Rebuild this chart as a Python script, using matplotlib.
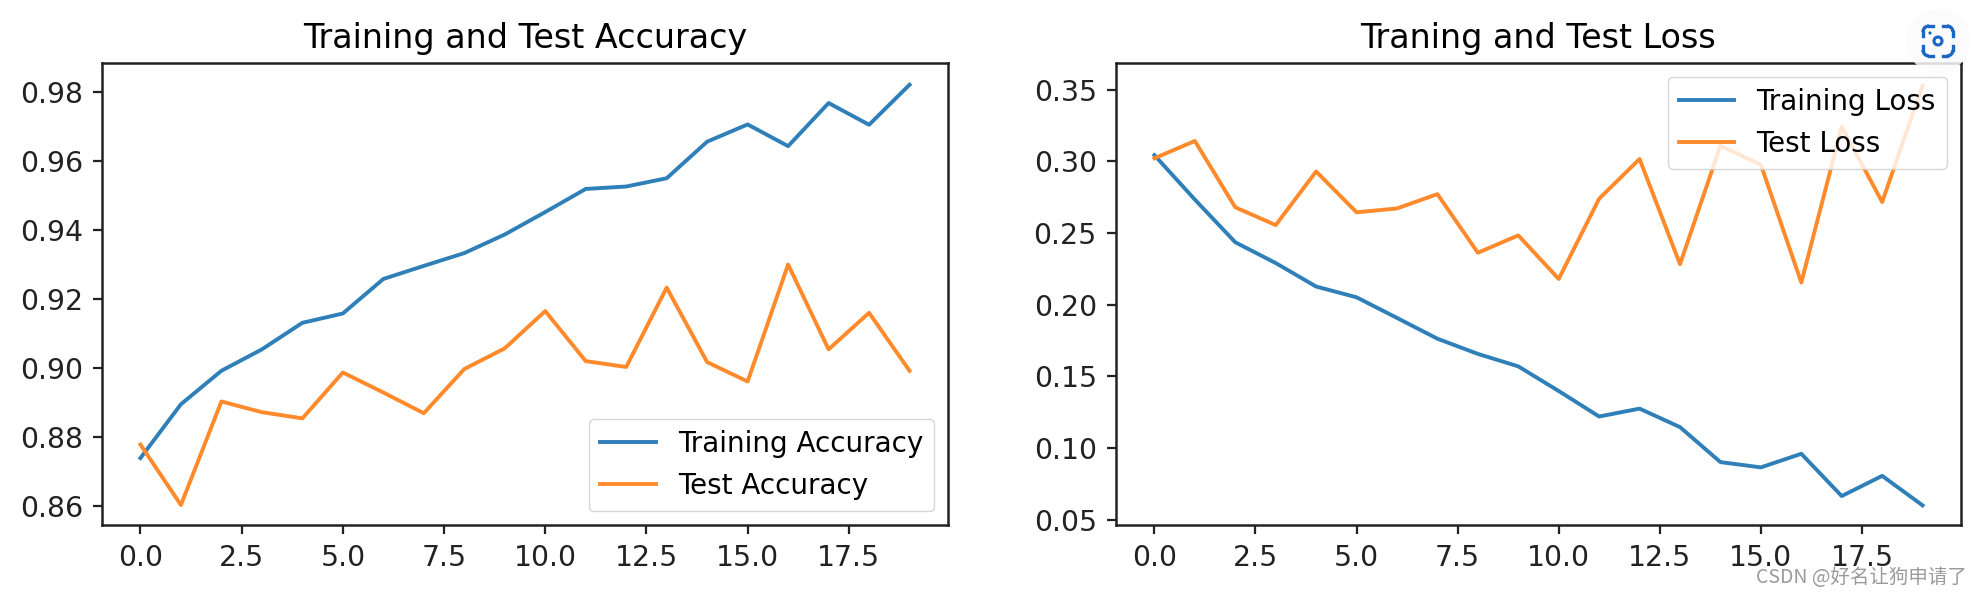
import matplotlib
matplotlib.use("Agg")
import matplotlib.pyplot as plt
from matplotlib.patches import Circle, Arc

plt.rcParams['font.family'] = ['DejaVu Sans']

# 读图估计的数值
epochs = list(range(20))
train_acc = [0.8739, 0.8895, 0.8992, 0.9054, 0.9131, 0.9158, 0.9258, 0.9296, 0.9333, 0.9387,
             0.9452, 0.9519, 0.9526, 0.9550, 0.9656, 0.9706, 0.9643, 0.9768, 0.9705, 0.9821]
test_acc = [0.8778, 0.8603, 0.8903, 0.8872, 0.8854, 0.8987, 0.8929, 0.8869, 0.8997, 0.9057,
            0.9165, 0.9020, 0.9003, 0.9233, 0.9017, 0.8961, 0.9300, 0.9054, 0.9160, 0.8992]
train_loss = [0.3044, 0.2734, 0.2436, 0.2291, 0.2127, 0.2052, 0.1908, 0.1763, 0.1657, 0.1570,
              0.1398, 0.1220, 0.1275, 0.1146, 0.0902, 0.0865, 0.0960, 0.0665, 0.0806, 0.0600]
test_loss = [0.3022, 0.3143, 0.2680, 0.2556, 0.2930, 0.2645, 0.2672, 0.2772, 0.2363, 0.2484,
             0.2180, 0.2740, 0.3017, 0.2283, 0.3110, 0.2977, 0.2155, 0.3242, 0.2717, 0.3530]

W, H = 1980, 594
fig = plt.figure(figsize=(W / 100, H / 100), dpi=100)

ax1 = fig.add_axes([102 / W, 1 - 525 / H, 846 / W, 462 / H])
ax2 = fig.add_axes([1116 / W, 1 - 525 / H, 845 / W, 462 / H])

ax1.plot(epochs, train_acc, lw=2.8, color="#2f7fb8", label="Training Accuracy")
ax1.plot(epochs, test_acc, lw=2.8, color="#ff8a2b", label="Test Accuracy")
ax1.set_title("Training and Test Accuracy", fontsize=24, pad=11)
ax1.set_ylim(0.8545, 0.9884)
ax1.legend(loc="lower right", fontsize=20)

ax2.plot(epochs, train_loss, lw=2.8, color="#2f7fb8", label="Training Loss")
ax2.plot(epochs, test_loss, lw=2.8, color="#ff8a2b", label="Test Loss")
ax2.set_title("Traning and Test Loss", fontsize=24, pad=11)
ax2.set_ylim(0.0463, 0.3687)
ax2.legend(loc="upper right", fontsize=20)

for ax in (ax1, ax2):
    ax.tick_params(labelsize=20.4, width=1.6, length=6.8, pad=7, color="#222222", labelcolor="#222222")
    for s in ax.spines.values():
        s.set_linewidth(1.8)
        s.set_color("#222222")

# 右上角的图标和水印，用像素坐标
overlay = fig.add_axes([0, 0, 1, 1], facecolor="none")
overlay.set_xlim(0, W)
overlay.set_ylim(H, 0)
overlay.axis("off")
overlay.add_patch(Circle((1938, 41), 32, fc="#fbfbfb", ec="none", alpha=0.85))
blue = "#1a66c4"
cx0, cx1, cy0, cy1, r = 1923, 1953, 26, 56, 6
overlay.plot([cx0 + r, cx0 + r + 4], [cy0, cy0], color=blue, lw=2.4)
overlay.plot([cx1 - r - 4, cx1 - r], [cy0, cy0], color=blue, lw=2.4)
overlay.plot([cx0 + r, cx0 + r + 4], [cy1, cy1], color=blue, lw=2.4)
overlay.plot([cx1 - r - 4, cx1 - r], [cy1, cy1], color=blue, lw=2.4)
overlay.plot([cx0, cx0], [cy0 + r, cy0 + r + 4], color=blue, lw=2.4)
overlay.plot([cx0, cx0], [cy1 - r - 4, cy1 - r], color=blue, lw=2.4)
overlay.plot([cx1, cx1], [cy0 + r, cy0 + r + 4], color=blue, lw=2.4)
overlay.plot([cx1, cx1], [cy1 - r - 4, cy1 - r], color=blue, lw=2.4)
overlay.add_patch(Arc((cx0 + r, cy0 + r), 2 * r, 2 * r, theta1=180, theta2=270, color=blue, lw=2.4))
overlay.add_patch(Arc((cx1 - r, cy0 + r), 2 * r, 2 * r, theta1=270, theta2=360, color=blue, lw=2.4))
overlay.add_patch(Arc((cx0 + r, cy1 - r), 2 * r, 2 * r, theta1=90, theta2=180, color=blue, lw=2.4))
overlay.add_patch(Arc((cx1 - r, cy1 - r), 2 * r, 2 * r, theta1=0, theta2=90, color=blue, lw=2.4))
overlay.add_patch(Circle((1938, 41), 4, fc="none", ec=blue, lw=2.2))
overlay.add_patch(Circle((1930, 33), 1.6, fc=blue, ec="none"))

overlay.text(1967, 583, "CSDN @好名让狗申请了", fontsize=14, color="#8f8f8f", ha="right",
             va="baseline", alpha=0.9, family=["Noto Sans CJK SC", "DejaVu Sans"])

plt.savefig("out.png", dpi=100)
